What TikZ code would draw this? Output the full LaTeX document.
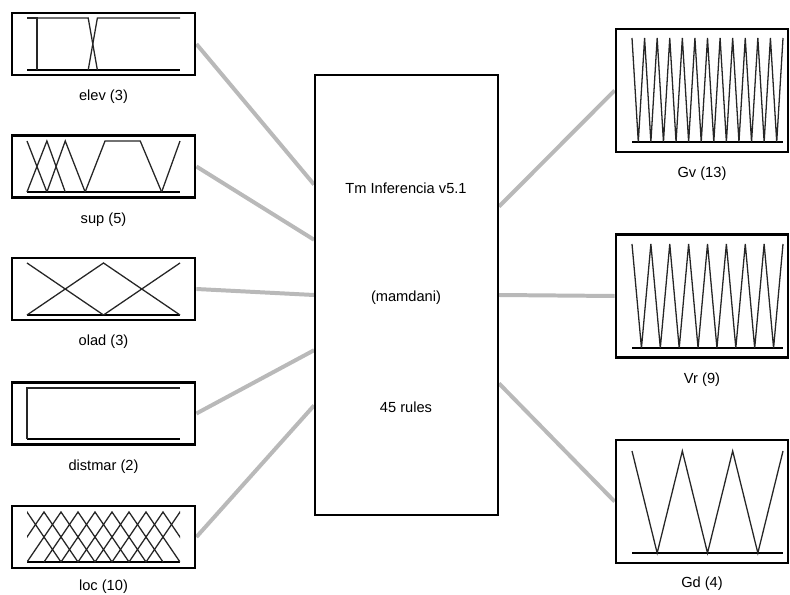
\documentclass[tikz,border=0pt]{standalone}
\usepackage{fontspec}
\setmainfont{Liberation Sans}
\usetikzlibrary{positioning,calc,backgrounds}

\tikzset{
  iobox/.style={draw, line width=2.4pt, minimum width=5.49cm, minimum height=1.86cm, inner sep=0pt},
  outbox/.style={iobox, minimum width=5.16cm, minimum height=3.69cm},
  fisbox/.style={draw, line width=1.6pt, minimum width=5.49cm, minimum height=13.2cm, inner sep=0pt},
  lbl/.style={font=\fontsize{12.5}{15}\selectfont, inner sep=0pt},
  link/.style={line width=3.4pt, gray!55},
  mf/.style={line width=1.1pt, black!85},
  axisline/.style={line width=1.8pt},
}

\begin{document}
\begin{tikzpicture}[x=0.03cm, y=-0.03cm]
\useasboundingbox (0,0) rectangle (790,595);

% inference system
\node[fisbox] (fis) at (406.5,295) {};
\node[lbl] (fistitle) at (406,188) {Tm Inferencia v5.1};
\node[lbl] (fistype) at (406,298) {(mamdani)};
\node[lbl] (fisrules) at (406,407) {45 rules};

% inputs
\node[iobox] (elev) at (103.5,44) {};
\node[iobox] (sup) at (103.5,166.5) {};
\node[iobox] (olad) at (103.5,289) {};
\node[iobox] (distmar) at (103.5,413.5) {};
\node[iobox] (loc) at (103.5,537) {};
\node[lbl, below=0.4cm of elev] (elevlbl) {elev (3)};
\node[lbl, below=0.4cm of sup] (suplbl) {sup (5)};
\node[lbl, below=0.4cm of olad] (oladlbl) {olad (3)};
\node[lbl, below=0.4cm of distmar] (distmarlbl) {distmar (2)};
\node[lbl, below=0.32cm of loc] (loclbl) {loc (10)};

% outputs
\node[outbox] (gv) at (702,90.5) {};
\node[outbox] (vr) at (702,296) {};
\node[outbox] (gd) at (702,501.5) {};
\node[lbl, below=0.4cm of gv] (gvlbl) {Gv (13)};
\node[lbl, below=0.4cm of vr] (vrlbl) {Vr (9)};
\node[lbl, below=0.36cm of gd] (gdlbl) {Gd (4)};

\begin{scope}[on background layer]
\draw[link] (elev.east) -- ($(fis.north west)!0.25!(fis.south west)$);
\draw[link] (sup.east) -- ($(fis.north west)!0.375!(fis.south west)$);
\draw[link] (olad.east) -- ($(fis.north west)!0.5!(fis.south west)$);
\draw[link] (distmar.east) -- ($(fis.north west)!0.625!(fis.south west)$);
\draw[link] (loc.east) -- ($(fis.north west)!0.75!(fis.south west)$);
\draw[link] ($(fis.north east)!0.3!(fis.south east)$) -- (gv.west);
\draw[link] ($(fis.north east)!0.5!(fis.south east)$) -- (vr.west);
\draw[link] ($(fis.north east)!0.7!(fis.south east)$) -- (gd.west);
\end{scope}

% elev
\begin{scope}[shift={(27,70)}, x=4.59cm, y=1.56cm]
\draw[axisline] (0,0) -- (1,0);
\draw[mf] (0,1) -- (0.065,1) -- (0.065,0);
\draw[mf] (0.065,0) -- (0.065,1) -- (0.40,1) -- (0.46,0);
\draw[mf] (0.40,0) -- (0.46,1) -- (1,1);
\end{scope}

% sup
\begin{scope}[shift={(27,192)}, x=4.59cm, y=1.53cm]
\draw[axisline] (0,0) -- (1,0);
\draw[mf] (0,1) -- (0.13,0);
\draw[mf] (0,0) -- (0.13,1) -- (0.25,0);
\draw[mf] (0.13,0) -- (0.25,1) -- (0.38,0);
\draw[mf] (0.38,0) -- (0.51,1) -- (0.74,1) -- (0.88,0);
\draw[mf] (0.88,0) -- (1,1);
\end{scope}

% olad
\begin{scope}[shift={(27,315)}, x=4.59cm, y=1.56cm]
\draw[axisline] (0,0) -- (1,0);
\draw[mf] (0,1) -- (0.5,0);
\draw[mf] (0,0) -- (0.5,1) -- (1,0);
\draw[mf] (0.5,0) -- (1,1);
\end{scope}

% distmar
\begin{scope}[shift={(27,439)}, x=4.59cm, y=1.53cm]
\draw[axisline] (0,0) -- (1,0);
\draw[mf] (0,0) -- (0,1) -- (1,1);
\end{scope}

% loc
\begin{scope}[shift={(27,562)}, x=4.59cm, y=1.5cm]
\draw[axisline] (0,0) -- (1,0);
\clip (0,-0.1) rectangle (1,1.1);
\foreach \k in {0,...,9}
  \draw[mf] ({(\k-2)/9},0) -- ({\k/9},1) -- ({(\k+2)/9},0);
\end{scope}

% Gv
\begin{scope}[shift={(632,142)}, x=4.53cm, y=3.12cm]
\draw[axisline] (0,0) -- (1,0);
\draw[mf] (0,1) \foreach \k in {1,...,12} { -- ({(\k-0.5)/12},0) -- ({\k/12},1) };
\end{scope}

% Vr
\begin{scope}[shift={(632,348)}, x=4.53cm, y=3.12cm]
\draw[axisline] (0,0) -- (1,0);
\draw[mf] (0,1) \foreach \k in {1,...,8} { -- ({(\k-0.5)/8},0) -- ({\k/8},1) };
\end{scope}

% Gd
\begin{scope}[shift={(632,553)}, x=4.53cm, y=3.06cm]
\draw[axisline] (0,0) -- (1,0);
\draw[mf] (0,1) \foreach \k in {1,...,3} { -- ({(\k-0.5)/3},0) -- ({\k/3},1) };
\end{scope}
\end{tikzpicture}
\end{document}
